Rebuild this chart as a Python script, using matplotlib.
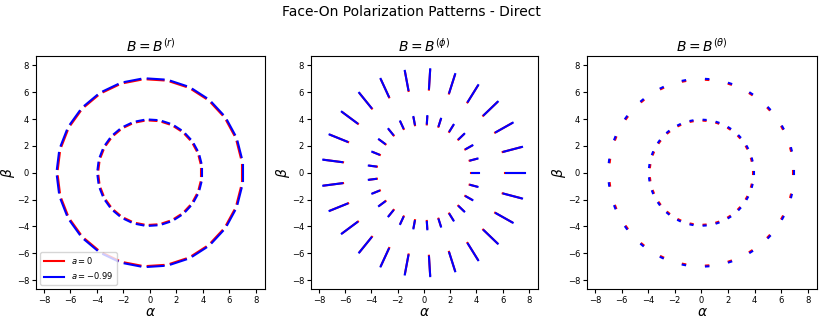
import numpy as np
import matplotlib.pyplot as plt

# image-plane angle of each sample point (deg)
point_angle = [0.0, 14.4, 28.8, 43.2, 57.6, 72.0, 86.4, 100.8, 115.2, 129.6,
               144.0, 158.4, 172.8, 187.2, 201.6, 216.0, 230.4, 244.8, 259.2,
               273.6, 288.0, 302.4, 316.8, 331.2, 345.6]
ring_radius = [3.95, 7.0]

spins = [0, -0.99]
spin_labels = ['$a = 0$', '$a = -0.99$']
spin_colors = ['red', 'blue']
spin_shift = [-0.07, 0.0]   # small radial offset of the a=0 image

panel_titles = ['$B = B^{(r)}$', '$B = B^{(\\phi)}$', '$B = B^{(\\theta)}$']
# polarization direction relative to radial (deg), and segment length per ring
pol_offset = [90, 0, 90]
seg_length = [[0.5, 1.2], [0.55, 1.45], [0.15, 0.18]]

fig = plt.figure(figsize=(8.22, 3.21), dpi=100)
fig.suptitle('Face-On Polarization Patterns - Direct', fontsize=10, y=0.985)

lefts = [0.0438, 0.3783, 0.7141]
widths = [0.2786, 0.2762, 0.2798]

for p in range(3):
    ax = fig.add_axes([lefts[p], 0.0997, widths[p], 0.7259])
    for s in range(len(spins)):
        first = True
        for ri, r in enumerate(ring_radius):
            for ang in point_angle:
                t = np.deg2rad(ang)
                rr = r + spin_shift[s]
                cx, cy = rr * np.cos(t), rr * np.sin(t)
                d = t + np.deg2rad(pol_offset[p])
                h = seg_length[p][ri] / 2
                ax.plot([cx - h * np.cos(d), cx + h * np.cos(d)],
                        [cy - h * np.sin(d), cy + h * np.sin(d)],
                        color=spin_colors[s], linewidth=1.5,
                        label=spin_labels[s] if first else None)
                first = False
    ax.set_xlim(-8.6, 8.7)
    ax.set_ylim(-8.67, 8.7)
    ax.set_xticks([-8, -6, -4, -2, 0, 2, 4, 6, 8])
    ax.set_yticks([-8, -6, -4, -2, 0, 2, 4, 6, 8])
    ax.tick_params(labelsize=6, length=3, pad=2)
    ax.set_title(panel_titles[p], fontsize=10, pad=3)
    ax.set_xlabel('$\\alpha$', fontsize=10, labelpad=0)
    ax.set_ylabel('$\\beta$', fontsize=10, labelpad=0)
    if p == 0:
        ax.legend(loc='lower left', fontsize=6, handlelength=2.5)

plt.savefig('out.png', dpi=100)
